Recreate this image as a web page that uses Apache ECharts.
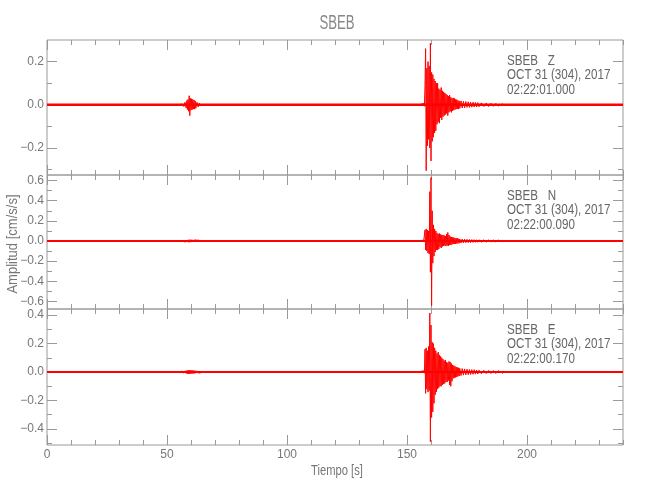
<!DOCTYPE html>
<html><head><meta charset="utf-8">
<script src="https://cdn.jsdelivr.net/npm/echarts@6/dist/echarts.min.js"></script>
<style>html,body{margin:0;padding:0;background:#fff}#c{width:650px;height:500px}</style>
</head><body><div id="c"></div>
<script>
// ---------- data ----------
const station = 'SBEB';
const components = ['Z', 'N', 'E'];
const dateText = 'OCT 31 (304), 2017';
const startTimes = ['02:22:01.000', '02:22:00.090', '02:22:00.170'];
const xTitle = 'Tiempo [s]';
const yTitle = 'Amplitud [cm/s/s]';

const xMin = 0, xMax = 240;
const xMajorTicks = [0, 50, 100, 150, 200];
const xMinorTicks = [10, 20, 30, 40, 60, 70, 80, 90, 110, 120, 130, 140, 160, 170, 180, 190, 210, 220, 230, 240];

const yMinZ = -0.325, yMaxZ = 0.3;
const yMinN = -0.675, yMaxN = 0.655;
const yMinE = -0.513, yMaxE = 0.443;
const yMajorZ = [-0.2, 0, 0.2];
const yMinorZ = [-0.3, -0.1, 0.1];
const yMajorN = [-0.6, -0.4, -0.2, 0, 0.2, 0.4, 0.6];
const yMinorN = [-0.5, -0.3, -0.1, 0.1, 0.3, 0.5];
const yMajorE = [-0.4, -0.2, 0, 0.2, 0.4];
const yMinorE = [-0.5, -0.3, -0.1, 0.1, 0.3];

// quiet background (noise level) trace, time [s] / amplitude
const quietTime = [0, 240];
const quietAmp = [0, 0];

// main arrival, sample times [s]
const eventTime = [
  156, 156.5, 157, 157.25, 157.5, 157.75, 158, 158.25,
  158.5, 158.75, 159, 159.25, 159.5, 159.75, 160, 160.25,
  160.5, 160.75, 161, 161.25, 161.5, 161.75, 162, 162.25,
  162.5, 162.75, 163, 163.25, 163.5, 163.75, 164, 164.25,
  164.5, 164.75, 165, 165.25, 165.5, 165.75, 166, 166.25,
  166.5, 166.75, 167, 167.25, 167.5, 167.75, 168, 168.25,
  168.5, 168.75, 169, 169.25, 169.5, 169.75, 170, 170.25,
  170.5, 170.75, 171, 171.25, 171.5, 171.75, 172, 172.5,
  173, 173.5, 174, 174.5, 175, 175.5, 176, 176.5,
  177, 177.5, 178, 178.5, 179, 179.5, 180, 181,
  182, 183, 184, 185, 186, 187, 188, 190
];
const eventZ = [
  0.004, -0.005, 0.006, -0.007, 0.09, 0.26, -0.305, 0.17,
  -0.19, 0.2, -0.16, 0.18, -0.2, 0.285, -0.26, 0.15,
  -0.17, 0.14, -0.15, 0.12, -0.13, 0.11, -0.12, 0.1,
  -0.09, 0.1, -0.08, 0.075, -0.085, 0.07, -0.06, 0.08,
  -0.07, 0.065, -0.055, 0.06, -0.05, 0.055, -0.045, 0.05,
  -0.04, 0.045, -0.05, 0.04, -0.035, 0.045, -0.03, 0.035,
  -0.035, 0.03, -0.028, 0.032, -0.025, 0.03, -0.022, 0.025,
  -0.02, 0.024, -0.018, 0.02, -0.02, 0.018, -0.016, 0.018,
  -0.015, 0.016, -0.014, 0.015, -0.012, 0.014, -0.012, 0.012,
  -0.011, 0.012, -0.01, 0.011, -0.01, 0.01, -0.009, 0.009,
  -0.008, 0.008, -0.008, 0.007, -0.007, 0.006, -0.006, 0.005
];
const eventN = [
  0.006, -0.008, 0.007, -0.009, 0.11, -0.09, 0.12, -0.1,
  0.11, -0.12, 0.1, -0.13, 0.49, -0.31, 0.63, -0.64,
  0.3, -0.22, 0.16, -0.15, 0.12, -0.11, 0.1, -0.09,
  0.08, -0.09, 0.07, -0.08, 0.075, -0.06, 0.065, -0.07,
  0.06, -0.055, 0.06, -0.05, 0.055, -0.045, 0.05, -0.05,
  0.07, -0.045, 0.085, -0.05, 0.06, -0.04, 0.045, -0.04,
  0.04, -0.035, 0.035, -0.03, 0.035, -0.03, 0.03, -0.028,
  0.028, -0.025, 0.026, -0.024, 0.022, -0.022, 0.02, -0.02,
  0.019, -0.018, 0.018, -0.017, 0.016, -0.016, 0.015, -0.015,
  0.014, -0.014, 0.013, -0.013, 0.012, -0.012, 0.012, -0.011,
  0.011, -0.01, 0.01, -0.01, 0.009, -0.009, 0.009, -0.008
];
const eventE = [
  0.006, -0.007, 0.008, -0.008, 0.16, -0.15, 0.17, -0.12,
  0.15, -0.14, 0.18, -0.13, 0.415, -0.49, 0.33, -0.32,
  0.21, -0.28, 0.2, -0.22, 0.17, -0.16, 0.15, -0.14,
  0.13, -0.12, 0.14, -0.11, 0.12, -0.1, 0.11, -0.1,
  0.1, -0.09, 0.09, -0.085, 0.08, -0.08, 0.085, -0.07,
  0.07, -0.07, 0.065, -0.06, 0.075, -0.09, 0.07, -0.1,
  0.06, -0.065, 0.05, -0.045, 0.045, -0.04, 0.04, -0.038,
  0.035, -0.035, 0.032, -0.03, 0.03, -0.028, 0.026, -0.025,
  0.024, -0.022, 0.022, -0.02, 0.02, -0.019, 0.018, -0.018,
  0.017, -0.016, 0.016, -0.015, 0.014, -0.014, 0.013, -0.012,
  0.012, -0.011, 0.011, -0.01, 0.01, -0.01, 0.009, -0.009
];

// small earlier arrival near 60 s
const smallTime = [
  56, 57, 57.5, 58, 58.25, 58.5, 58.75, 59,
  59.25, 59.5, 59.75, 60, 60.25, 60.5, 60.75, 61,
  61.25, 61.5, 61.75, 62, 62.5, 63, 63.5, 64
];
const smallZ = [
  0.006, -0.008, 0.012, -0.015, 0.02, -0.022, 0.025, -0.03,
  0.042, -0.05, 0.03, -0.025, 0.028, -0.022, 0.025, -0.02,
  0.022, -0.02, 0.018, -0.016, 0.012, -0.01, 0.008, -0.006
];
const smallN = [
  0.006, -0.007, 0.008, -0.009, 0.01, -0.01, 0.011, -0.012,
  0.013, -0.012, 0.012, -0.011, 0.012, -0.01, 0.011, -0.01,
  0.01, -0.009, 0.009, -0.008, 0.008, -0.007, 0.007, -0.006
];
const smallE = [
  0.006, -0.007, 0.008, -0.01, 0.011, -0.012, 0.012, -0.013,
  0.014, -0.013, 0.012, -0.012, 0.011, -0.011, 0.012, -0.01,
  0.01, -0.009, 0.009, -0.008, 0.008, -0.007, 0.007, -0.006
];

// ---------- build ----------
const panels = [
  {min: yMinZ, max: yMaxZ, major: yMajorZ, minor: yMinorZ, ev: eventZ, sm: smallZ},
  {min: yMinN, max: yMaxN, major: yMajorN, minor: yMinorN, ev: eventN, sm: smallN},
  {min: yMinE, max: yMaxE, major: yMajorE, minor: yMinorE, ev: eventE, sm: smallE}
];
const layout = {left: 47, width: 576, tops: [40, 175, 309], heights: [135, 134, 136]};
const quietWidths = [2.5, 2, 2.2];
const AX = '#9a9a9a';
const LBL = '#777';
const FONT = "'Liberation Sans Narrow','Liberation Sans',Arial,sans-serif";
const pair = (ts, vs) => ts.map((t, k) => [t, vs[k]]);
const fmtY = v => (v < 0 ? '\u2212' : '') + Math.abs(v).toFixed(1);

const grids = [], xAxes = [], yAxes = [], series = [], graphics = [];
panels.forEach((p, i) => {
  grids.push({left: layout.left, width: layout.width, top: layout.tops[i], height: layout.heights[i],
    show: true, borderColor: AX, borderWidth: 1, backgroundColor: 'transparent', containLabel: false});
  const xa = (pos, ticks, len, lab) => ({
    type: 'value', gridIndex: i, position: pos, min: xMin, max: xMax, offset: 0,
    axisLine: {show: false, onZero: false}, splitLine: {show: false},
    axisTick: {show: true, inside: true, length: len, customValues: ticks, lineStyle: {color: AX, width: 1}},
    axisLabel: {show: lab, customValues: ticks, color: LBL, fontSize: 12, fontFamily: FONT, margin: 4}
  });
  xAxes.push(xa('bottom', xMajorTicks, 10, i === 2));
  xAxes.push(xa('top', xMajorTicks, 10, false));
  xAxes.push(xa('bottom', xMinorTicks, 5, false));
  xAxes.push(xa('top', xMinorTicks, 5, false));
  const ya = (pos, ticks, len, lab) => ({
    type: 'value', gridIndex: i, position: pos, min: p.min, max: p.max, offset: 0,
    axisLine: {show: false, onZero: false}, splitLine: {show: false},
    axisTick: {show: true, inside: true, length: len, customValues: ticks, lineStyle: {color: AX, width: 1}},
    axisLabel: {show: lab, customValues: ticks, formatter: fmtY, color: LBL, fontSize: 12, fontFamily: FONT, margin: 3}
  });
  yAxes.push(ya('left', p.major, 10, true));
  yAxes.push(ya('right', p.major, 10, false));
  yAxes.push(ya('left', p.minor, 5, false));
  yAxes.push(ya('right', p.minor, 5, false));
  const base = {type: 'line', xAxisIndex: 4 * i, yAxisIndex: 4 * i, showSymbol: false, symbol: 'none',
    silent: true, animation: false};
  series.push(Object.assign({}, base, {data: pair(quietTime, quietAmp), lineStyle: {color: '#ff0000', width: quietWidths[i]}}));
  series.push(Object.assign({}, base, {data: pair(smallTime, p.sm), lineStyle: {color: '#ff0000', width: 1}}));
  series.push(Object.assign({}, base, {data: pair(eventTime, p.ev), lineStyle: {color: '#ff0000', width: 1}}));
  const top = layout.tops[i];
  [station + '   ' + components[i], dateText, startTimes[i]].forEach((t, k) => {
    graphics.push({type: 'text', x: 507, y: top + 21 + k * 14.5, scaleX: 0.83, silent: true,
      style: {text: t, font: "14px 'Liberation Sans',Arial,sans-serif", fill: '#666', align: 'left', verticalAlign: 'middle'}});
  });
});
graphics.push({type: 'text', x: 337, y: 23, scaleX: 0.66, silent: true,
  style: {text: station, font: "20px 'Liberation Sans',Arial,sans-serif", fill: '#888', align: 'center', verticalAlign: 'middle'}});
graphics.push({type: 'text', x: 337, y: 471, scaleX: 0.8, silent: true,
  style: {text: xTitle, font: "14px 'Liberation Sans',Arial,sans-serif", fill: '#777', align: 'center', verticalAlign: 'middle'}});
graphics.push({type: 'text', x: 13, y: 244, rotation: Math.PI / 2, scaleX: 0.93, silent: true,
  style: {text: yTitle, font: "14px 'Liberation Sans',Arial,sans-serif", fill: '#777', align: 'center', verticalAlign: 'middle'}});

const chart = echarts.init(document.getElementById('c'), null, {renderer: 'canvas'});
chart.setOption({animation: false, backgroundColor: '#fff', grid: grids, xAxis: xAxes, yAxis: yAxes, series: series, graphic: graphics});
</script></body></html>
